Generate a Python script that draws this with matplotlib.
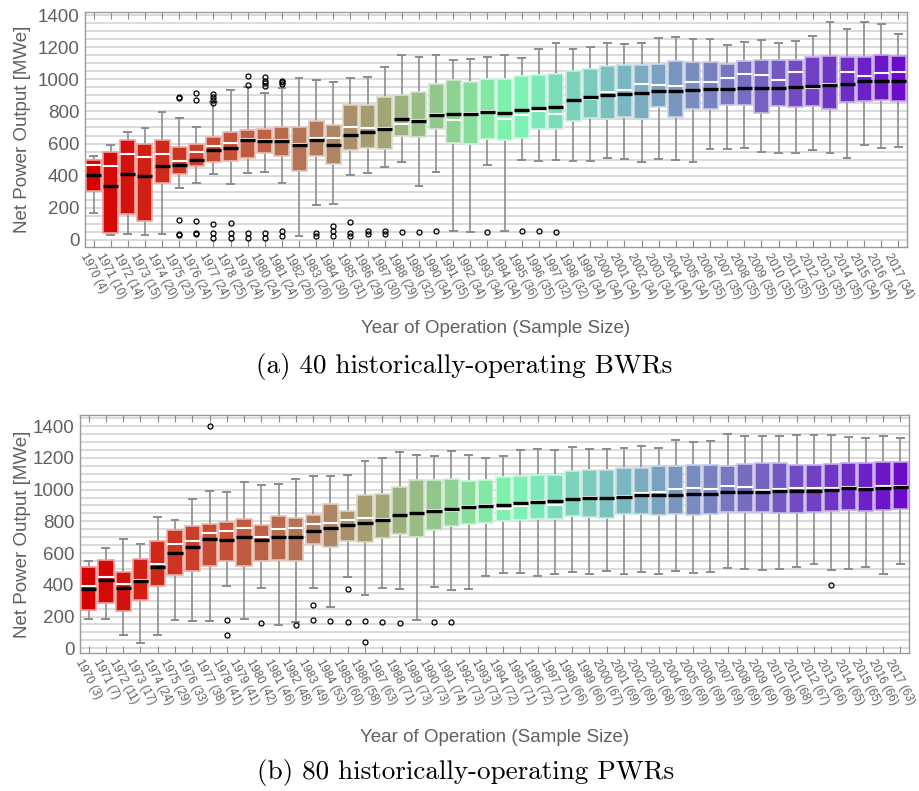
"""Box plots of net power output by year of operation for BWRs and PWRs."""
import matplotlib
matplotlib.use("Agg")
import matplotlib.pyplot as plt
from matplotlib.colors import LinearSegmentedColormap, to_rgb

YEARS = list(range(1970, 2018))

# ---- (a) BWRs -------------------------------------------------------------
BWR_N = [4, 10, 14, 15, 20, 23, 24, 24, 25, 24,
         24, 24, 26, 26, 30, 31, 29, 30, 29, 32,
         34, 35, 34, 34, 34, 36, 35, 32, 32, 34,
         34, 34, 34, 34, 34, 34, 35, 35, 35, 35,
         35, 35, 35, 35, 35, 34, 34, 34]
BWR_LO = [169, 32, 36, 32, 36, 321, 355, 411, 350, 415,
          423, 352, 25, 215, 225, 405, 417, 452, 484, 338,
          421, 57, 48, 469, 57, 500, 490, 500, 490, 490,
          511, 502, 486, 504, 498, 488, 569, 563, 571, 548,
          542, 544, 561, 542, 511, 588, 571, 580]
BWR_Q1 = [307, 42, 161, 119, 357, 411, 459, 486, 490, 511,
          538, 525, 427, 521, 473, 557, 573, 565, 648, 642,
          688, 605, 596, 630, 621, 636, 688, 688, 738, 759,
          752, 763, 755, 827, 765, 815, 817, 838, 842, 792,
          836, 825, 834, 817, 857, 865, 873, 865]
BWR_MED = [405, 334, 413, 396, 463, 467, 496, 557, 573, 623,
           617, 617, 588, 621, 588, 654, 669, 692, 752, 738,
           779, 786, 782, 798, 790, 807, 821, 827, 869, 890,
           900, 907, 915, 925, 927, 932, 938, 938, 948, 944,
           944, 954, 957, 965, 969, 990, 988, 988]
BWR_MEAN = [467, 457, 532, 515, 536, 494, 546, 584, 602, 628,
            625, 622, 595, 634, 634, 702, 698, 695, 723, 745,
            785, 744, 790, 800, 754, 775, 802, 786, 872, 880,
            921, 932, 973, 967, 957, 981, 981, 1009, 1036, 1027,
            996, 1048, 946, 970, 1048, 1019, 1040, 1046]
BWR_Q3 = [498, 546, 619, 598, 623, 577, 598, 638, 675, 686,
          690, 702, 702, 738, 715, 840, 840, 890, 902, 921,
          973, 998, 986, 1004, 1004, 1019, 1027, 1036, 1050, 1063,
          1086, 1092, 1092, 1094, 1113, 1111, 1109, 1098, 1115, 1119,
          1119, 1123, 1140, 1144, 1140, 1140, 1150, 1144]
BWR_HI = [521, 592, 675, 694, 798, 757, 700, 859, 932, 952,
          917, 948, 1011, 994, 982, 1009, 1015, 1077, 1154, 1140,
          1150, 1123, 1129, 1140, 1150, 1134, 1188, 1227, 1192, 1202,
          1227, 1223, 1227, 1261, 1263, 1252, 1250, 1215, 1234, 1244,
          1227, 1240, 1269, 1356, 1315, 1359, 1346, 1281]
BWR_FLIERS = {
    1975: [890, 884, 125, 36, 30],
    1976: [917, 873, 115, 42, 36],
    1977: [911, 890, 873, 855, 96, 42, 11],
    1978: [107, 42, 11],
    1979: [1021, 967, 42, 11],
    1980: [1013, 992, 975, 958, 42, 11],
    1981: [992, 984, 973, 57, 25],
    1983: [42, 21],
    1984: [88, 57, 25],
    1985: [111, 42, 25],
    1986: [52, 36],
    1987: [52, 36],
    1988: [46],
    1989: [46],
    1990: [52],
    1993: [46],
    1995: [52],
    1996: [57],
    1997: [46],
}

# ---- (b) PWRs -------------------------------------------------------------
PWR_N = [3, 7, 11, 17, 24, 29, 33, 38, 41, 41,
         42, 46, 48, 49, 53, 60, 58, 63, 71, 73,
         73, 74, 73, 73, 72, 71, 72, 71, 66, 66,
         67, 69, 69, 68, 69, 69, 69, 69, 69, 69,
         68, 68, 67, 66, 65, 65, 66, 63]
PWR_LO = [187, 187, 86, 36, 82, 177, 170, 170, 393, 183,
          378, 147, 166, 378, 261, 450, 334, 380, 374, 177,
          387, 368, 374, 454, 475, 475, 454, 465, 479, 471,
          486, 469, 479, 469, 488, 473, 481, 507, 498, 496,
          502, 513, 528, 496, 500, 509, 465, 534]
PWR_Q1 = [240, 288, 233, 303, 391, 460, 488, 517, 551, 517,
          551, 559, 551, 654, 639, 677, 671, 692, 719, 702,
          744, 769, 782, 790, 801, 807, 816, 816, 832, 826,
          822, 843, 847, 837, 849, 839, 849, 856, 856, 856,
          853, 853, 860, 864, 870, 866, 870, 877]
PWR_MED = [376, 427, 380, 423, 513, 601, 641, 687, 681, 698,
           681, 700, 702, 736, 757, 774, 788, 809, 837, 851,
           866, 879, 891, 896, 902, 914, 923, 927, 938, 944,
           946, 954, 965, 965, 967, 969, 971, 982, 982, 986,
           988, 990, 994, 999, 1009, 1005, 1011, 1017]
PWR_MEAN = [391, 446, 402, 430, 528, 654, 675, 727, 740, 759,
            698, 750, 755, 780, 790, 807, 818, 815, 842, 855,
            870, 864, 895, 900, 877, 896, 926, 902, 940, 954,
            950, 958, 980, 986, 1001, 1013, 1001, 1020, 1018, 996,
            1003, 1011, 1007, 1013, 1018, 1008, 1022, 1022]
PWR_Q3 = [511, 555, 481, 561, 677, 744, 769, 782, 795, 816,
          774, 832, 820, 839, 910, 866, 963, 973, 1015, 1059,
          1059, 1064, 1055, 1059, 1080, 1087, 1091, 1095, 1120, 1125,
          1123, 1135, 1139, 1146, 1148, 1154, 1156, 1148, 1160, 1167,
          1165, 1154, 1154, 1160, 1167, 1165, 1175, 1171]
PWR_HI = [551, 633, 687, 656, 828, 811, 940, 990, 982, 1049,
          1030, 1038, 1068, 1087, 1083, 1091, 1179, 1200, 1234, 1217,
          1209, 1240, 1219, 1196, 1211, 1249, 1255, 1247, 1270, 1257,
          1257, 1263, 1276, 1265, 1314, 1299, 1308, 1352, 1339, 1335,
          1337, 1347, 1341, 1341, 1331, 1326, 1335, 1326]
PWR_FLIERS = {
    1977: [1400],
    1978: [177, 82],
    1980: [160],
    1982: [145],
    1983: [271, 177],
    1984: [172],
    1985: [372, 168],
    1986: [174, 40],
    1987: [168],
    1988: [156],
    1990: [166],
    1991: [166],
    2013: [397],
}

YEAR_CMAP = LinearSegmentedColormap.from_list("years", [
    (0.00, "#d60000"), (0.15, "#c84a32"), (0.28, "#b07c5c"),
    (0.36, "#a2a676"), (0.45, "#8cd494"), (0.52, "#7cf6b4"),
    (0.66, "#7ab6c0"), (0.77, "#7880c0"), (1.00, "#6a0cc8"),
])
TEXT_GRAY = "#606060"
SANS = "Liberation Sans"


def _stats(lo, q1, med, mean, q3, hi, fliers):
    out = []
    for i, year in enumerate(YEARS):
        out.append({"whislo": lo[i], "q1": q1[i], "med": med[i], "mean": mean[i],
                    "q3": q3[i], "whishi": hi[i], "fliers": fliers.get(year, [])})
    return out


def _lighten(color, amount):
    r, g, b = to_rgb(color)
    return (r + (1 - r) * amount, g + (1 - g) * amount, b + (1 - b) * amount)


def _panel(ax, stats, sizes, ylim, xlabel_y, ylabel_x):
    positions = list(range(1, len(YEARS) + 1))
    for y in range(0, 1451, 50):
        ax.axhline(y, color="#d8d8d8", lw=1.3, zorder=0)

    art = ax.bxp(
        stats, positions=positions, widths=0.88, capwidths=0.4,
        patch_artist=True, showmeans=True, meanline=True,
        boxprops={"linewidth": 1.2},
        medianprops={"color": "black", "linewidth": 2.4, "zorder": 5},
        meanprops={"color": "white", "linewidth": 1.5, "linestyle": "-", "zorder": 4},
        whiskerprops={"color": "#8c8c8c", "linewidth": 1.2},
        capprops={"color": "#8c8c8c", "linewidth": 1.4},
        flierprops={"marker": "o", "markerfacecolor": "none", "markeredgecolor": "black",
                    "markersize": 3.6, "markeredgewidth": 0.9},
    )
    n = len(YEARS)
    for i, box in enumerate(art["boxes"]):
        face = YEAR_CMAP(i / (n - 1))
        box.set_facecolor(face)
        box.set_edgecolor(_lighten(face, 0.6))
        box.set_zorder(3)

    ax.set_xlim(0.5, n + 0.5)
    ax.set_ylim(*ylim)
    ax.set_yticks(range(0, 1401, 200))
    ax.set_xticks(positions)
    ax.set_xticklabels([f"{y} ({s})" for y, s in zip(YEARS, sizes)],
                       rotation=-62, ha="center", va="top",
                       fontsize=8.3, color=TEXT_GRAY, family=SANS)
    ax.tick_params(axis="x", direction="in", length=5, color="#8c8c8c",
                   top=True, bottom=True, pad=3)
    ax.tick_params(axis="y", length=0, pad=4, labelsize=13.5, labelcolor=TEXT_GRAY)
    for lab in ax.get_yticklabels():
        lab.set_family(SANS)
    for sp in ax.spines.values():
        sp.set_color("#9a9a9a")
        sp.set_linewidth(1.0)

    ax.set_xlabel("Year of Operation (Sample Size)", fontsize=13.5,
                  color=TEXT_GRAY, family=SANS)
    ax.xaxis.set_label_coords(0.5, xlabel_y)
    ax.set_ylabel("Net Power Output [MWe]", fontsize=13.5,
                  color=TEXT_GRAY, family=SANS)
    ax.yaxis.set_label_coords(ylabel_x, 0.5)


fig = plt.figure(figsize=(9.2, 7.91), dpi=100)

ax_a = fig.add_axes([85 / 920, 1 - 247 / 791, 822 / 920, 235 / 791])
_panel(ax_a, _stats(BWR_LO, BWR_Q1, BWR_MED, BWR_MEAN, BWR_Q3, BWR_HI, BWR_FLIERS),
       BWR_N, (-45, 1420), -0.31, -0.066)

ax_b = fig.add_axes([80 / 920, 1 - 653 / 791, 829 / 920, 238 / 791])
_panel(ax_b, _stats(PWR_LO, PWR_Q1, PWR_MED, PWR_MEAN, PWR_Q3, PWR_HI, PWR_FLIERS),
       PWR_N, (-30, 1470), -0.32, -0.059)

fig.text(0.505, 1 - 367 / 791, "(a) 40 historically-operating BWRs",
         ha="center", va="center", fontsize=19.5, family="cmr10")
fig.text(0.506, 1 - 773 / 791, "(b) 80 historically-operating PWRs",
         ha="center", va="center", fontsize=19.5, family="cmr10")

fig.savefig("out.png", dpi=100)
